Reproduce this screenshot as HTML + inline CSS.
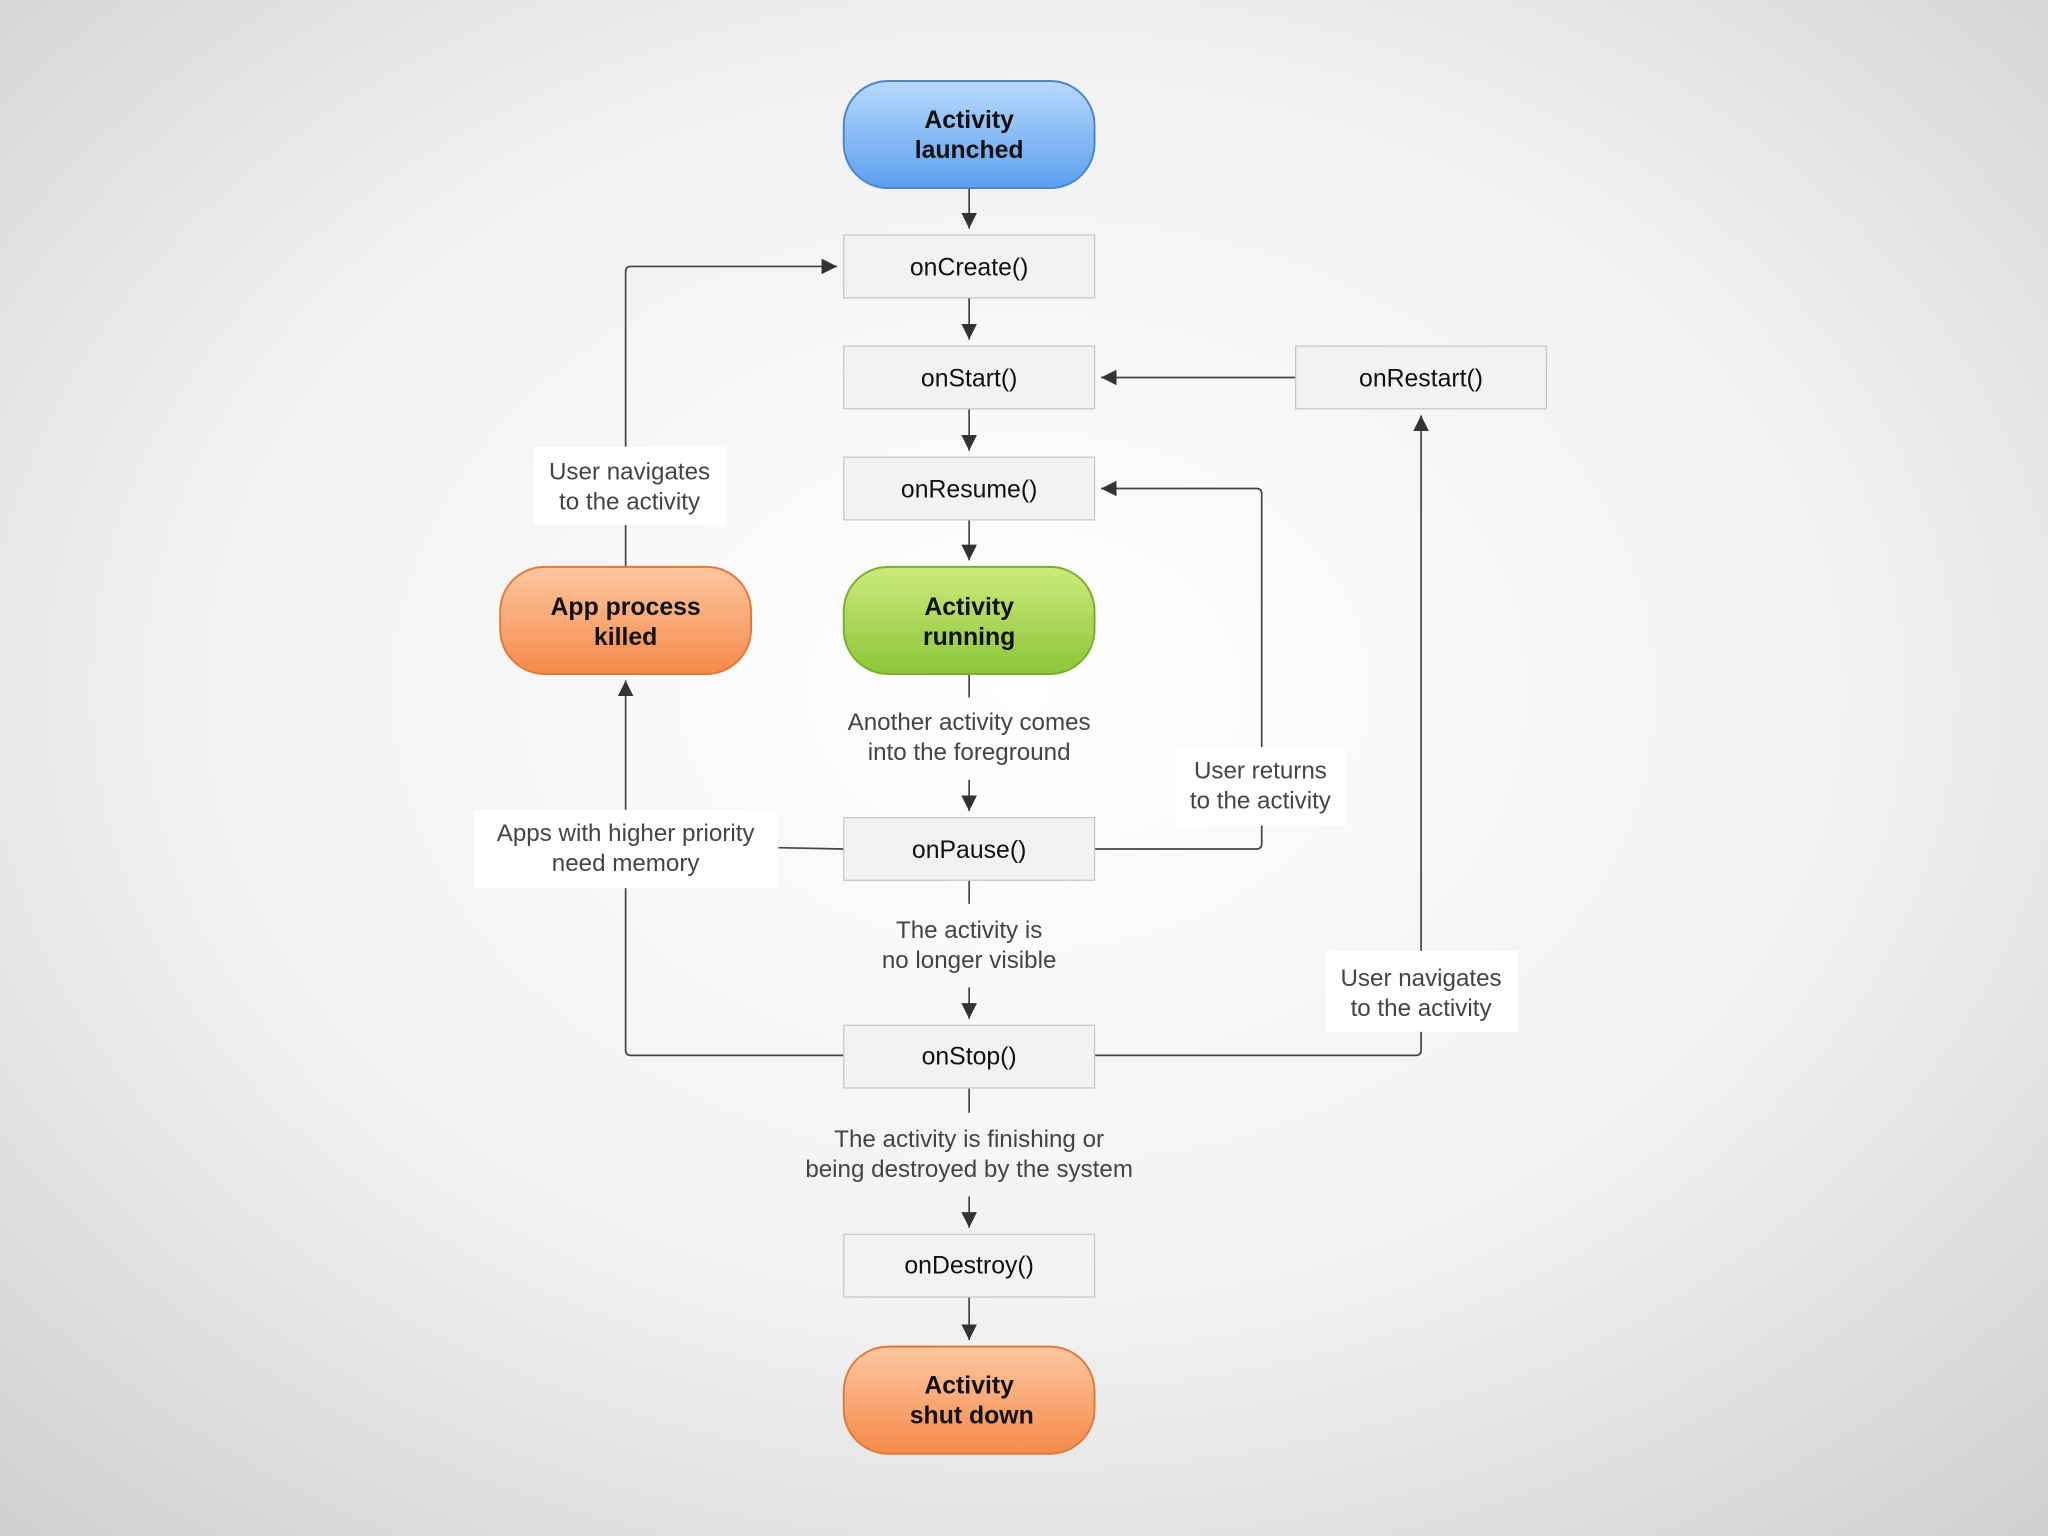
<!DOCTYPE html>
<html><head><meta charset="utf-8"><style>
html,body{margin:0;padding:0;width:2048px;height:1536px;overflow:hidden}
svg{display:block}
text{font-family:"Liberation Sans",sans-serif}
</style></head><body>
<svg width="2048" height="1536" viewBox="0 0 1568 1176" xmlns="http://www.w3.org/2000/svg">
<defs>
<radialGradient id="bg" cx="50%" cy="45%" r="75%">
<stop offset="0" stop-color="#ffffff"/><stop offset="0.55" stop-color="#f1f1f1"/><stop offset="1" stop-color="#cfcfcf"/>
</radialGradient>
<linearGradient id="blue" x1="0" y1="0" x2="0" y2="1"><stop offset="0" stop-color="#b8dafc"/><stop offset="1" stop-color="#5c9ff0"/></linearGradient>
<linearGradient id="green" x1="0" y1="0" x2="0" y2="1"><stop offset="0" stop-color="#cdea7a"/><stop offset="1" stop-color="#8cc63a"/></linearGradient>
<linearGradient id="orange" x1="0" y1="0" x2="0" y2="1"><stop offset="0" stop-color="#fdc7a0"/><stop offset="1" stop-color="#f58a4a"/></linearGradient>
<marker id="ar" viewBox="0 0 10 10" refX="10" refY="5" markerWidth="12" markerHeight="12" markerUnits="userSpaceOnUse" orient="auto"><path d="M0,0 L10,5 L0,10 z" fill="#333"/></marker>
</defs>
<rect width="1568" height="1176" fill="url(#bg)"/>
<g stroke="#444" stroke-width="1.3" fill="none">
<line x1="742" y1="144" x2="742" y2="175" marker-end="url(#ar)"/>
<line x1="742" y1="228" x2="742" y2="260" marker-end="url(#ar)"/>
<line x1="742" y1="313" x2="742" y2="345" marker-end="url(#ar)"/>
<line x1="742" y1="398" x2="742" y2="429" marker-end="url(#ar)"/>
<line x1="742" y1="516" x2="742" y2="534"/>
<line x1="742" y1="597" x2="742" y2="621" marker-end="url(#ar)"/>
<line x1="742" y1="674" x2="742" y2="692"/>
<line x1="742" y1="756" x2="742" y2="780" marker-end="url(#ar)"/>
<line x1="742" y1="833" x2="742" y2="852"/>
<line x1="742" y1="916" x2="742" y2="940" marker-end="url(#ar)"/>
<line x1="742" y1="993" x2="742" y2="1026" marker-end="url(#ar)"/>
<path d="M479,434 L479,208 Q479,204 483,204 L641,204" marker-end="url(#ar)"/>
<line x1="992" y1="289" x2="843" y2="289" marker-end="url(#ar)"/>
<path d="M838,650 L962,650 Q966,650 966,646 L966,378 Q966,374 962,374 L843,374" marker-end="url(#ar)"/>
<path d="M838,808 L1084,808 Q1088,808 1088,804 L1088,318" marker-end="url(#ar)"/>
<path d="M646,808 L483,808 Q479,808 479,804 L479,521" marker-end="url(#ar)"/>
<line x1="646" y1="650" x2="596" y2="649"/>
</g>
<g fill="#fff">
<rect x="408" y="342" width="148" height="60"/>
<rect x="363" y="620" width="232" height="60"/>
<rect x="900" y="572" width="130" height="60"/>
<rect x="1015" y="728" width="147" height="62"/>
</g>
<g fill="#f2f2f2" stroke="#c8c8c8" stroke-width="1">
<rect x="646" y="180" width="192" height="48"/>
<rect x="646" y="265" width="192" height="48"/>
<rect x="646" y="350" width="192" height="48"/>
<rect x="646" y="626" width="192" height="48"/>
<rect x="646" y="785" width="192" height="48"/>
<rect x="646" y="945" width="192" height="48"/>
<rect x="992" y="265" width="192" height="48"/>
</g>
<g stroke-width="1.5">
<rect x="646" y="62" width="192" height="82" rx="34" fill="url(#blue)" stroke="#4a86d0"/>
<rect x="646" y="434" width="192" height="82" rx="34" fill="url(#green)" stroke="#7aae30"/>
<rect x="383" y="434" width="192" height="82" rx="34" fill="url(#orange)" stroke="#e07a3a"/>
<rect x="646" y="1031" width="192" height="82" rx="34" fill="url(#orange)" stroke="#e07a3a"/>
</g>
<g font-size="19" font-weight="bold" fill="#111" text-anchor="middle">
<text x="742" y="98">Activity</text><text x="742" y="121">launched</text>
<text x="742" y="471">Activity</text><text x="742" y="494">running</text>
<text x="479" y="471">App process</text><text x="479" y="494">killed</text>
<text x="742" y="1067">Activity</text><text x="744" y="1090">shut down</text>
</g>
<g font-size="19" fill="#111" text-anchor="middle">
<text x="742" y="211">onCreate()</text>
<text x="742" y="296">onStart()</text>
<text x="742" y="381">onResume()</text>
<text x="742" y="657">onPause()</text>
<text x="742" y="815">onStop()</text>
<text x="742" y="975">onDestroy()</text>
<text x="1088" y="296">onRestart()</text>
</g>
<g font-size="18.5" fill="#444" text-anchor="middle">
<text x="482" y="367">User navigates</text><text x="482" y="390">to the activity</text>
<text x="479" y="644">Apps with higher priority</text><text x="479" y="667">need memory</text>
<text x="965" y="596">User returns</text><text x="965" y="619">to the activity</text>
<text x="1088" y="755">User navigates</text><text x="1088" y="778">to the activity</text>
<text x="742" y="559">Another activity comes</text><text x="742" y="582">into the foreground</text>
<text x="742" y="718">The activity is</text><text x="742" y="741">no longer visible</text>
<text x="742" y="878">The activity is finishing or</text><text x="742" y="901">being destroyed by the system</text>
</g>
</svg>
</body></html>
